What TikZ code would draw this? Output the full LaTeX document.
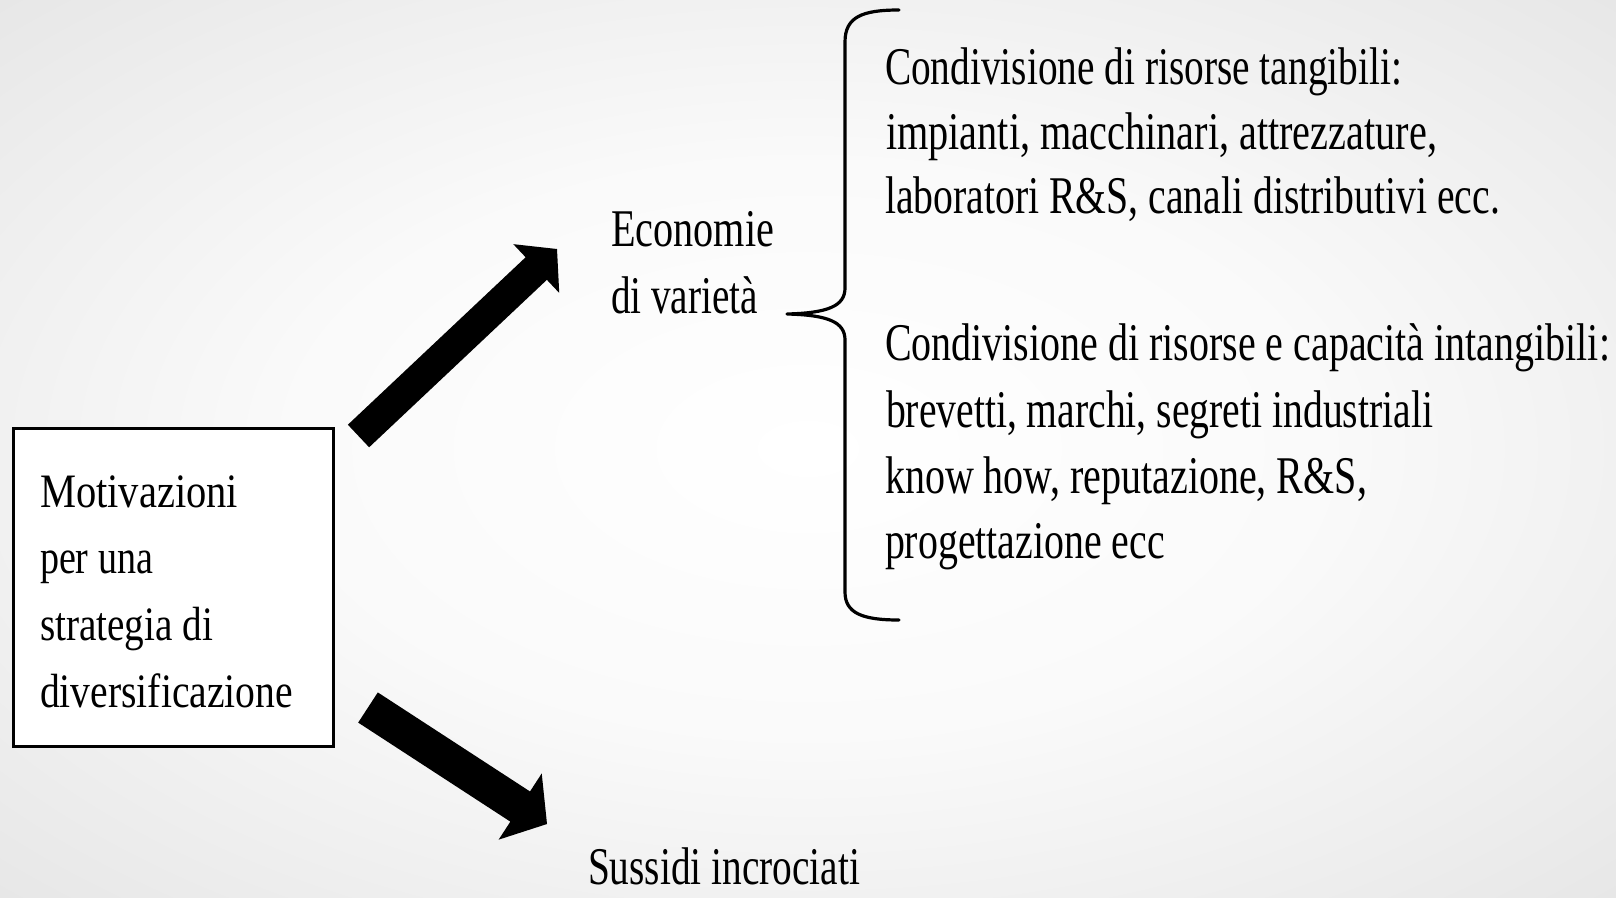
\documentclass[tikz,border=0pt]{standalone}
\usepackage{fontspec}
\setmainfont{Liberation Serif}
\usetikzlibrary{calc}

% squeeze a line of text horizontally to a given width, height unchanged
\newcommand{\squeeze}[2]{\resizebox{#1}{\height}{#2}}

% filled block arrow: #1 tail, #2 tip, #3 half shaft width, #4 half head width, #5 head length
\newcommand{\blockarrow}[5]{%
  \coordinate (ba-base) at ($(#2)!#5!(#1)$);
  \fill[black]
    ($(#1)!#3!90:(#2)$) -- ($(ba-base)!#3!-90:(#1)$) -- ($(ba-base)!#4!-90:(#1)$)
    -- (#2)
    -- ($(ba-base)!#4!90:(#1)$) -- ($(ba-base)!#3!90:(#1)$) -- ($(#1)!#3!-90:(#2)$) -- cycle;
}

\pgfdeclareradialshading{slideglow}{\pgfpoint{0bp}{0bp}}{%
  color(0bp)=(white); color(16bp)=(black!2); color(50bp)=(black!15)}

\begin{document}
\begin{tikzpicture}[x=1pt,y=-1pt,
  txt/.style={inner sep=0pt, outer sep=0pt, anchor=base west,
              font=\fontsize{53}{60}\selectfont},
  boxtxt/.style={txt, font=\fontsize{48}{54}\selectfont},
  bracepath/.style={draw=black, line width=3.2pt, line cap=round, line join=round}]

% slide background
\shade[shading=slideglow] (0,0) rectangle (1616,897);
\useasboundingbox (0,0) rectangle (1616,897);

% left box
\node[draw=black, line width=2.6pt, fill=white, inner sep=0pt, anchor=north west,
      minimum width=320pt, minimum height=318pt] (box) at (12,427) {};
\node[boxtxt] (m1) at (40,507) {\squeeze{198pt}{Motivazioni}};
\node[boxtxt] (m2) at (40,573) {\squeeze{113pt}{per una}};
\node[boxtxt] (m3) at (40,640) {\squeeze{173pt}{strategia di}};
\node[boxtxt] (m4) at (40,707) {\squeeze{253pt}{diversificazione}};

% targets of the two arrows
\node[txt] (e1) at (611,246) {\squeeze{163pt}{Economie}};
\node[txt] (e2) at (611,313) {\squeeze{147pt}{di varietà}};
\node[txt] (s1) at (588,884) {\squeeze{272pt}{Sussidi incrociati}};

% arrows
\coordinate (ua-tail) at (358.5,436);
\coordinate (ua-tip)  at (557,249);
\blockarrow{ua-tail}{ua-tip}{15.5pt}{33.5pt}{28.5pt}
\coordinate (la-tail) at (368,707.5);
\coordinate (la-tip)  at (547,824);
\blockarrow{la-tail}{la-tip}{18pt}{39.5pt}{32pt}

% curly brace
\coordinate (br-top) at (899,10);
\coordinate (br-tip) at (787,314);
\coordinate (br-bot) at (899,620);
\draw[bracepath] (br-top) .. controls (862,10) and (845,17) .. (845,42)
  -- (845,288) .. controls (845,306) and (828,313) .. (br-tip)
  .. controls (828,315) and (845,322) .. (845,340)
  -- (845,592) .. controls (845,613) and (862,620) .. (br-bot);

% tangible resources
\node[txt] (t1a) at (885,84)  {\squeeze{517pt}{Condivisione di risorse  tangibili:}};
\node[txt] (t1b) at (886,149) {\squeeze{551pt}{impianti, macchinari, attrezzature,}};
\node[txt] (t1c) at (885,213) {\squeeze{615pt}{laboratori R\&S, canali distributivi ecc.}};

% intangible resources
\node[txt] (t2a) at (885,360) {\squeeze{725pt}{Condivisione di risorse  e capacità intangibili:}};
\node[txt] (t2b) at (886,427) {\squeeze{547pt}{brevetti, marchi, segreti  industriali}};
\node[txt] (t2c) at (885,493) {\squeeze{482pt}{know how, reputazione, R\&S,}};
\node[txt] (t2d) at (885,558) {\squeeze{280pt}{progettazione ecc}};
\end{tikzpicture}
\end{document}
